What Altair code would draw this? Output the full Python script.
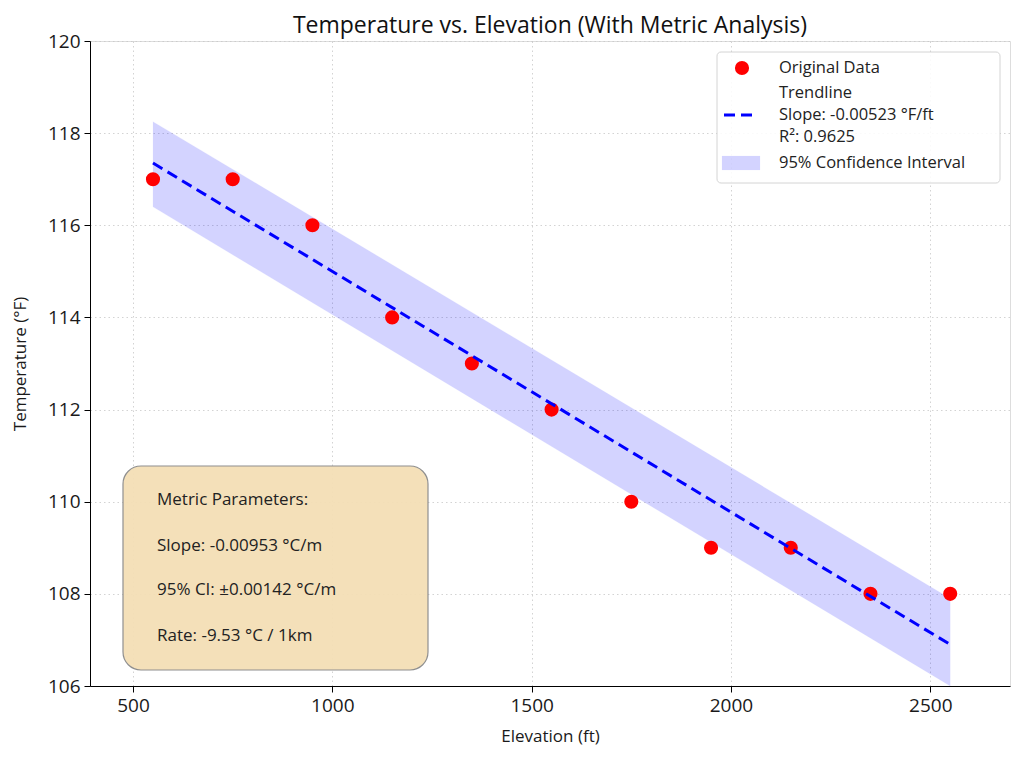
import altair as alt
import pandas as pd

# ---- data ----
elevation_ft = [550, 750, 950, 1150, 1350, 1550, 1750, 1950, 2150, 2350, 2550]
temperature_f = [117, 117, 116, 114, 113, 112, 110, 109, 109, 108, 108]

trend_x = [550, 2550]
trend_y = [117.35, 106.9]
ci_upper = [118.25, 107.9]
ci_lower = [116.4, 106.0]

title_text = "Temperature vs. Elevation (With Metric Analysis)"
x_title = "Elevation (ft)"
y_title = "Temperature (°F)"
legend_labels = ["Original Data", "Trendline", "Slope: -0.00523 °F/ft", "R²: 0.9625", "95% Confidence Interval"]
box_lines = ["Metric Parameters:", "Slope: -0.00953 °C/m", "95% CI: ±0.00142 °C/m", "Rate: -9.53 °C / 1km"]

FONT = "Open Sans"
W, H = 920, 645

pts = pd.DataFrame({"elev": elevation_ft, "temp": temperature_f})
trend = pd.DataFrame({"elev": trend_x, "temp": trend_y, "lo": ci_lower, "hi": ci_upper})

xs = alt.Scale(domain=[392, 2700], nice=False, zero=False)
ys = alt.Scale(domain=[106, 120], nice=False, zero=False)

common = dict(grid=True, gridDash=[1.5, 3], gridColor="#c8c8c8", gridWidth=0.8,
              labelFontSize=19, titleFontSize=17, labelColor="#1a1a1a", titleColor="#1a1a1a",
              tickColor="#000", domainColor="#000", tickSize=6, labelPadding=4,
              titleFontWeight="normal", labelFont=FONT, titleFont=FONT, format="d")
xaxis = alt.Axis(values=[500, 1000, 1500, 2000, 2500], title=x_title, titlePadding=13, **common)
yaxis = alt.Axis(values=list(range(106, 121, 2)), title=y_title, titlePadding=18, **common)

band = alt.Chart(trend).mark_area(color="#0000ff", opacity=0.17, stroke="#0000ff",
                                  strokeOpacity=0.12, clip=True).encode(
    x=alt.X("elev:Q", scale=xs, axis=xaxis),
    y=alt.Y("hi:Q", scale=ys, axis=yaxis),
    y2="lo:Q",
)

scatter = alt.Chart(pts).mark_circle(color="#ff0000", size=200, opacity=1).encode(
    x=alt.X("elev:Q", scale=xs),
    y=alt.Y("temp:Q", scale=ys),
)

line = alt.Chart(trend).mark_line(color="#0000ff", strokeWidth=3, strokeDash=[11, 6]).encode(
    x=alt.X("elev:Q", scale=xs),
    y=alt.Y("temp:Q", scale=ys),
)

one = pd.DataFrame({"a": [0]})

# ---- legend (manual) ----
leg_box = alt.Chart(one).mark_rect(fill="white", stroke="#d0d0d0", strokeWidth=1,
                                   cornerRadius=4, opacity=0.9).encode(
    x=alt.value(627), x2=alt.value(910), y=alt.value(11), y2=alt.value(142))
leg_dot = alt.Chart(one).mark_circle(color="#ff0000", size=200, opacity=1).encode(
    x=alt.value(652), y=alt.value(27))
leg_line = alt.Chart(one).mark_rule(color="#0000ff", strokeWidth=3, strokeDash=[11, 6]).encode(
    x=alt.value(634), x2=alt.value(668), y=alt.value(74))
leg_patch = alt.Chart(one).mark_rect(fill="#0000ff", opacity=0.17, stroke="#0000ff",
                                     strokeOpacity=0.12).encode(
    x=alt.value(632), x2=alt.value(670), y=alt.value(115), y2=alt.value(129))

leg_text_df = pd.DataFrame({"t": legend_labels, "yy": [27, 52, 74, 96, 122]})
leg_text = alt.Chart(leg_text_df).mark_text(align="left", baseline="middle", fontSize=16.5,
                                            font=FONT, color="#222").encode(
    x=alt.value(689), y=alt.Y("yy:Q", scale=None), text="t:N")

# ---- metric box ----
box = alt.Chart(one).mark_rect(fill="#f4dfb6", stroke="#8a8a8a", strokeWidth=1.2,
                               cornerRadius=18, opacity=0.95).encode(
    x=alt.value(33), x2=alt.value(338), y=alt.value(425), y2=alt.value(629))
box_df = pd.DataFrame({"t": box_lines, "yy": [459, 505, 549, 595]})
box_text = alt.Chart(box_df).mark_text(align="left", baseline="middle", fontSize=17,
                                       font=FONT, color="#222").encode(
    x=alt.value(67), y=alt.Y("yy:Q", scale=None), text="t:N")

chart = alt.layer(band, scatter, line, box, box_text, leg_box, leg_dot, leg_line, leg_patch, leg_text).properties(
    width=W, height=H,
    title=alt.TitleParams(title_text, fontSize=23, font=FONT, fontWeight="normal", color="#111",
                          anchor="middle", offset=-6),
    autosize=alt.AutoSizeParams(type="none"),
    padding={"left": 82, "top": 33, "right": 6, "bottom": 60},
).configure_view(stroke="#000", strokeWidth=1.2).configure(background="white")

chart.save("out.html", embed_options={"renderer": "svg", "actions": False})
